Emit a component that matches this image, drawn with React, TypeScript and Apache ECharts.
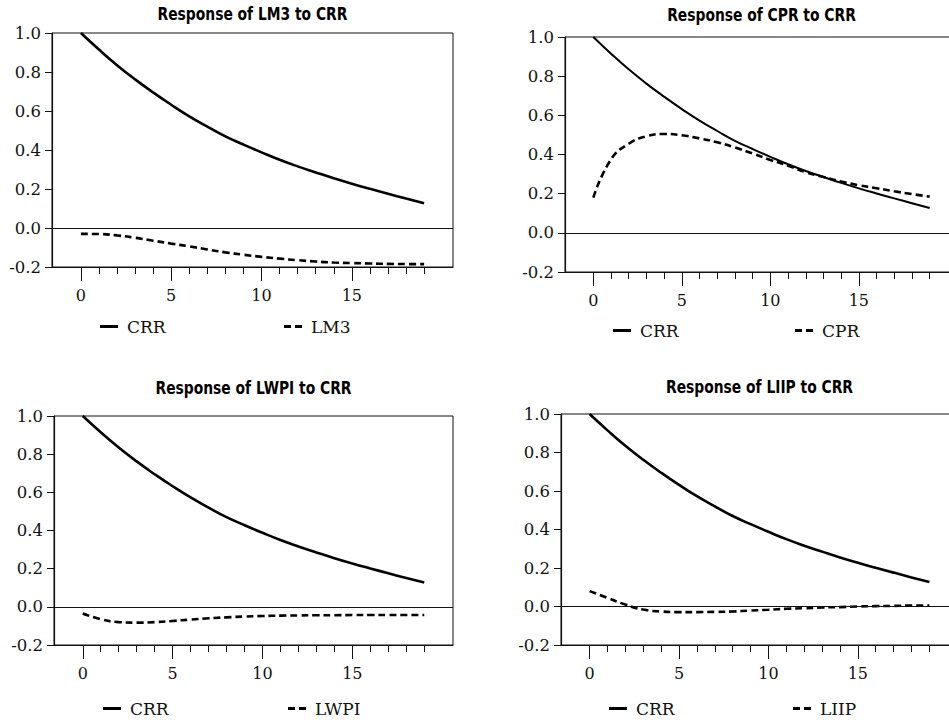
import React, { useEffect, useRef } from "react";
import * as echarts from "echarts";

const HORIZONS = [0, 1, 2, 3, 4, 5, 6, 7, 8, 9, 10, 11, 12, 13, 14, 15, 16, 17, 18, 19];
const X_LABELS = [0, 5, 10, 15];

const CRR = [1.0, 0.915, 0.835, 0.762, 0.695, 0.632, 0.573, 0.52, 0.47, 0.428, 0.388, 0.35, 0.316, 0.285, 0.255, 0.227, 0.201, 0.176, 0.151, 0.127];
const LM3 = [-0.03, -0.031, -0.038, -0.05, -0.065, -0.08, -0.094, -0.11, -0.125, -0.137, -0.148, -0.157, -0.165, -0.172, -0.177, -0.18, -0.182, -0.184, -0.185, -0.185];
const CPR = [0.18, 0.375, 0.455, 0.493, 0.505, 0.498, 0.482, 0.462, 0.436, 0.405, 0.372, 0.343, 0.31, 0.285, 0.262, 0.243, 0.228, 0.212, 0.198, 0.185];
const LWPI = [-0.035, -0.065, -0.08, -0.083, -0.08, -0.074, -0.067, -0.06, -0.055, -0.051, -0.048, -0.046, -0.045, -0.044, -0.044, -0.043, -0.043, -0.043, -0.043, -0.043];
const LIIP = [0.08, 0.045, 0.01, -0.016, -0.026, -0.029, -0.029, -0.028, -0.026, -0.021, -0.017, -0.012, -0.009, -0.005, -0.003, 0.0, 0.002, 0.003, 0.005, 0.005];

const SERIF = "DejaVu Serif";
const TITLE_FONT = "DejaVu Sans";

const SOLID_ICON = "path://M0,0H18V3H0Z";
const DASH_ICON = "path://M0,0H7V3H0Z M11,0H18V3H11Z";

const PANELS = [
  { title: "Response of LM3 to CRR", name: "LM3", values: LM3, grid: { left: 52, top: 33, width: 401, height: 234 }, titleY: 14, legendY: 326, legA: 100, legB: 284, solidW: 2.6 },
  { title: "Response of CPR to CRR", name: "CPR", values: CPR, grid: { left: 565, top: 37, width: 393, height: 235 }, titleY: 15, legendY: 330, legA: 613, legB: 795, solidW: 2 },
  { title: "Response of LWPI to CRR", name: "LWPI", values: LWPI, grid: { left: 54, top: 416, width: 399, height: 229 }, titleY: 388, legendY: 708, legA: 103, legB: 288, solidW: 2.6 },
  { title: "Response of LIIP to CRR", name: "LIIP", values: LIIP, grid: { left: 561, top: 414, width: 397, height: 231 }, titleY: 387, legendY: 708, legA: 609, legB: 793, solidW: 2.6 },
];

export default function App() {
  const ref = useRef<HTMLDivElement>(null);
  useEffect(() => {
    if (!ref.current) return;
    const chart = echarts.init(ref.current, null, { renderer: "svg" });
    const grids: any[] = [];
    const xAxes: any[] = [];
    const yAxes: any[] = [];
    const series: any[] = [];
    const graphics: any[] = [];
    const legends: any[] = [];
    PANELS.forEach((p, i) => {
      grids.push({ ...p.grid, show: true, borderColor: "#111", borderWidth: 1, backgroundColor: "transparent", containLabel: false, outerBoundsMode: "none" });
      xAxes.push({
        type: "value", gridIndex: i, min: -1.6, max: 20.6, position: "bottom",
        axisLine: { show: true, onZero: false, lineStyle: { color: "#111", width: 1.2 } },
        axisTick: { show: true, customValues: X_LABELS, length: 14, lineStyle: { color: "#111", width: 1 } },
        axisLabel: { show: true, customValues: X_LABELS, margin: 20, color: "#111", fontFamily: SERIF, fontSize: 16 },
        splitLine: { show: false },
      });
      xAxes.push({
        type: "value", gridIndex: i, min: -1.6, max: 20.6, position: "bottom",
        axisLine: { show: false, onZero: false },
        axisTick: { show: true, customValues: HORIZONS, length: 7, lineStyle: { color: "#111", width: 1 } },
        axisLabel: { show: false },
        splitLine: { show: false },
      });
      yAxes.push({
        type: "value", gridIndex: i, min: -0.2, max: 1.0, interval: 0.2, position: "left",
        axisLine: { show: true, onZero: false, lineStyle: { color: "#111", width: 1.2 } },
        axisTick: { show: true, length: 7, lineStyle: { color: "#111", width: 1 } },
        axisLabel: { margin: 11, color: "#111", fontFamily: SERIF, fontSize: 16.5, formatter: (v: number) => v.toFixed(1) },
        splitLine: { show: false },
      });
      series.push({
        type: "line", name: "CRR", xAxisIndex: i * 2, yAxisIndex: i,
        data: HORIZONS.map((t, k) => [t, CRR[k]]),
        showSymbol: false, symbol: "none", smooth: true,
        lineStyle: { color: "#000", width: p.solidW, type: "solid" },
        itemStyle: { color: "#000" },
        markLine: {
          silent: true, symbol: ["none", "none"], label: { show: false },
          lineStyle: { color: "#111", width: 1, type: "solid" },
          data: [{ yAxis: 0 }],
        },
      });
      series.push({
        type: "line", name: p.name, xAxisIndex: i * 2, yAxisIndex: i,
        data: HORIZONS.map((t, k) => [t, p.values[k]]),
        showSymbol: false, symbol: "none", smooth: true,
        lineStyle: { color: "#000", width: 2.6, type: [7, 4] },
        itemStyle: { color: "#000" },
      });
      graphics.push({
        type: "text", x: p.grid.left + p.grid.width / 2, y: p.titleY, scaleX: 0.77,
        style: { text: p.title, x: 0, y: 0, align: "center", verticalAlign: "middle", font: `bold 18px '${TITLE_FONT}'`, fill: "#000" },
      });
      const legCommon = {
        orient: "horizontal", padding: 0, itemWidth: 18, itemHeight: 3, selectedMode: false,
        itemStyle: { color: "#000" },
        textStyle: { fontFamily: SERIF, fontSize: 17, color: "#111", padding: [0, 0, 0, 4], lineHeight: 16 },
        top: p.legendY - 8,
      };
      legends.push({ ...legCommon, left: p.legA, data: [{ name: "CRR", icon: SOLID_ICON }] });
      legends.push({ ...legCommon, left: p.legB, data: [{ name: p.name, icon: DASH_ICON }] });
    });
    chart.setOption({
      animation: false,
      backgroundColor: "#fff",
      textStyle: { fontFamily: SERIF },
      legend: legends,
      grid: grids,
      xAxis: xAxes,
      yAxis: yAxes,
      series,
      graphic: graphics,
    });
    return () => chart.dispose();
  }, []);
  return <div ref={ref} style={{ position: "fixed", left: 0, top: 0, width: 949, height: 722 }} />;
}
